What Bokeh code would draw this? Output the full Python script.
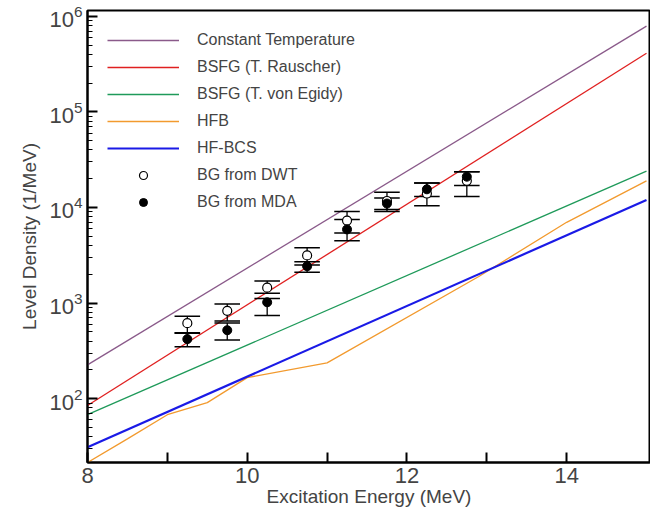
from bokeh.plotting import figure
from bokeh.models import Legend, LegendItem
from bokeh.embed import file_html
from bokeh.resources import INLINE

# model curves
ct_x = [8, 15]
ct_y = [226, 7.9e5]
rau_x = [8, 15]
rau_y = [85, 4.1e5]
egi_x = [8, 15]
egi_y = [68, 2.4e4]
hfbcs_x = [8, 15]
hfbcs_y = [31, 1.2e4]
hfb_x = [8, 8.5, 9, 9.5, 10, 11, 12.9, 14, 15]
hfb_y = [21.5, 38, 68, 91, 166, 237, 1900, 7000, 1.9e4]

# data points
pt_x = [9.25, 9.75, 10.25, 10.75, 11.25, 11.75, 12.25, 12.75]
dwt_y = [617, 830, 1450, 3150, 7300, 11700, 14000, 19000]
dwt_hi = [730, 980, 1700, 3800, 9100, 14400, 18000, 23700]
dwt_lo = [485, 650, 1270, 2500, 5400, 9100, 10400, 13000]
mda_y = [420, 520, 1020, 2430, 5900, 11000, 15500, 21000]
mda_hi = [490, 620, 1120, 2700, 7500, 12600, 18000, 23700]
mda_lo = [350, 410, 740, 2100, 4500, 9500, 13000, 17000]

p = figure(width=650, height=509, y_axis_type="log", x_range=(8, 15.05),
           y_range=(21.5, 1.15e6), output_backend="svg", toolbar_location=None,
           min_border_left=87, min_border_right=0, min_border_top=10,
           min_border_bottom=46)
p.grid.visible = False
p.outline_line_color = "black"
p.outline_line_width = 2

r_ct = p.line(ct_x, ct_y, color="#8a5a8a", line_width=1.3)
r_rau = p.line(rau_x, rau_y, color="#e02020", line_width=1.3)
r_egi = p.line(egi_x, egi_y, color="#1f9a5a", line_width=1.3)
r_hfb = p.line(hfb_x, hfb_y, color="#f29a2e", line_width=1.3)
r_bcs = p.line(hfbcs_x, hfbcs_y, color="#1a1ae6", line_width=2.2)

w = 0.16
for ys, hi, lo in [(dwt_y, dwt_hi, dwt_lo), (mda_y, mda_hi, mda_lo)]:
    p.segment(pt_x, lo, pt_x, hi, color="black", line_width=1.3)
    p.segment([x - w for x in pt_x], hi, [x + w for x in pt_x], hi, color="black", line_width=1.5)
    p.segment([x - w for x in pt_x], lo, [x + w for x in pt_x], lo, color="black", line_width=1.5)
r_dwt = p.scatter(pt_x, dwt_y, size=9, fill_color="white", line_color="black", line_width=1.2)
r_mda = p.scatter(pt_x, mda_y, size=9, fill_color="black", line_color="black")

legend = Legend(items=[
    LegendItem(label="Constant Temperature", renderers=[r_ct]),
    LegendItem(label="BSFG (T. Rauscher)", renderers=[r_rau]),
    LegendItem(label="BSFG (T. von Egidy)", renderers=[r_egi]),
    LegendItem(label="HFB", renderers=[r_hfb]),
    LegendItem(label="HF-BCS", renderers=[r_bcs]),
    LegendItem(label="BG from DWT", renderers=[r_dwt]),
    LegendItem(label="BG from MDA", renderers=[r_mda]),
], location="top_left")
legend.border_line_color = None
legend.background_fill_alpha = 0
legend.label_text_font = "Arial"
legend.label_text_font_size = "16px"
legend.glyph_width = 72
legend.spacing = 7
legend.margin = 20
legend.padding = 2
legend.label_standoff = 18
p.add_layout(legend)

p.xaxis.axis_label = "Excitation Energy (MeV)"
p.yaxis.axis_label = "Level Density (1/MeV)"
for ax in (p.xaxis, p.yaxis):
    ax.axis_label_text_font = "Arial"
    ax.axis_label_text_font_style = "normal"
    ax.axis_label_text_font_size = "19px"
    ax.major_label_text_font = "Arial"
    ax.major_label_text_font_size = "22px"
    ax.axis_line_width = 2
    ax.major_tick_in = 10
    ax.major_tick_out = 0
    ax.minor_tick_in = 5
    ax.minor_tick_out = 0
    ax.major_tick_line_width = 2
p.xaxis.ticker = [8, 9, 10, 11, 12, 13, 14]
p.xaxis.major_label_overrides = {9: "", 11: "", 13: ""}
p.xaxis.axis_label_standoff = 0
p.yaxis.axis_label_standoff = 6

open("out.html", "w").write(file_html(p, INLINE))
